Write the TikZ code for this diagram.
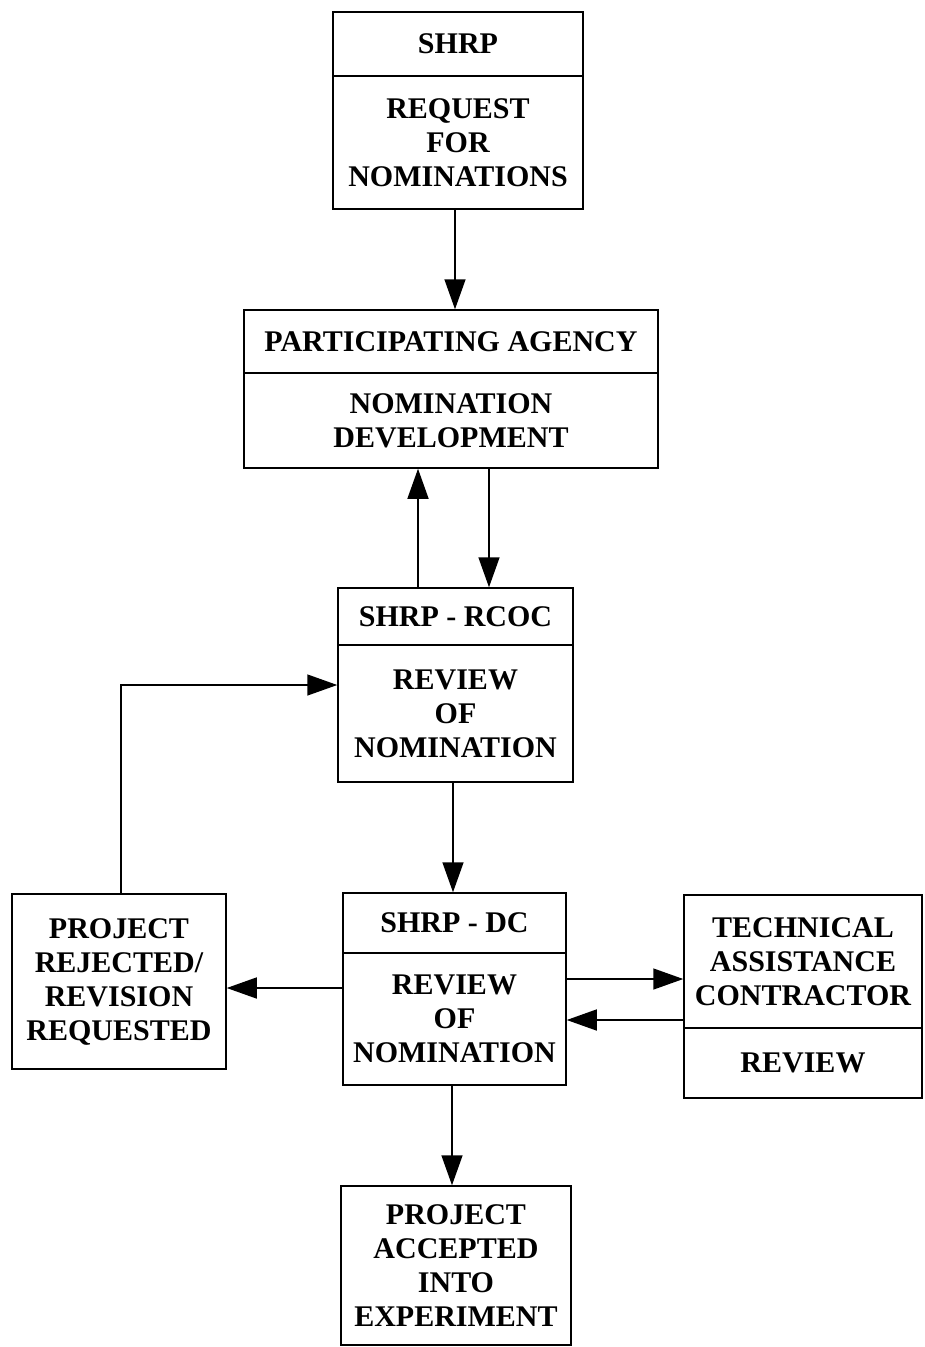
\documentclass[tikz,border=0pt]{standalone}
\usepackage{fontspec}
\setmainfont{Liberation Serif}
\usetikzlibrary{arrows.meta}
\begin{document}
\begin{tikzpicture}[x=1pt,y=-1pt,
  box/.style={draw,line width=1.5pt,inner sep=0pt,align=center,
    font=\fontsize{30}{34}\selectfont\bfseries},
  arr/.style={line width=1.5pt,-{Triangle[length=30pt,width=21pt]}}]
\useasboundingbox[fill=white] (0,0) rectangle (924,1347);
% box 1
\node[box,minimum width=250pt,minimum height=64pt] (b1h) at (458,44) {SHRP};
\node[box,minimum width=250pt,minimum height=133pt] (b1b) at (458,142.5) {REQUEST\\FOR\\NOMINATIONS};
% box 2
\node[box,minimum width=414pt,minimum height=63pt] (b2h) at (451,341.5) {PARTICIPATING AGENCY};
\node[box,minimum width=414pt,minimum height=95pt] (b2b) at (451,420.5) {NOMINATION\\DEVELOPMENT};
% box 3
\node[box,minimum width=235pt,minimum height=57pt] (b3h) at (455.5,616.5) {SHRP - RCOC};
\node[box,minimum width=235pt,minimum height=137pt] (b3b) at (455.5,713.5) {REVIEW\\OF\\NOMINATION};
% box 4
\node[box,minimum width=214pt,minimum height=175pt] (b4) at (119,981.5) {PROJECT\\REJECTED/\\REVISION\\REQUESTED};
% box 5
\node[box,minimum width=223pt,minimum height=60pt] (b5h) at (454.5,923) {SHRP - DC};
\node[box,minimum width=223pt,minimum height=132pt] (b5b) at (454.5,1019) {REVIEW\\OF\\NOMINATION};
% box 6
\node[box,minimum width=238pt,minimum height=133pt] (b6h) at (803,961.5) {TECHNICAL\\ASSISTANCE\\CONTRACTOR};
\node[box,minimum width=238pt,minimum height=70pt] (b6b) at (803,1063) {REVIEW};
% box 7
\node[box,minimum width=230pt,minimum height=159pt] (b7) at (456,1265.5) {PROJECT\\ACCEPTED\\INTO\\EXPERIMENT};
% helper coordinates
\coordinate (c1) at (455,0);
\coordinate (cup) at (418,0);
\coordinate (cdn) at (489,0);
\coordinate (loop) at (121,685);
\coordinate (c3) at (453,0);
\coordinate (r4) at (0,988);
\coordinate (r6a) at (0,979);
\coordinate (r6b) at (0,1020);
\coordinate (c7) at (452,0);
% connectors
\draw[arr] (c1 |- b1b.south) -- (c1 |- b2h.north);
\draw[arr] (cup |- b3h.north) -- (cup |- b2b.south);
\draw[arr] (cdn |- b2b.south) -- (cdn |- b3h.north);
\draw[arr] (loop |- b4.north) -- (loop) -- (loop -| b3b.west);
\draw[arr] (c3 |- b3b.south) -- (c3 |- b5h.north);
\draw[arr] (r4 -| b5b.west) -- (r4 -| b4.east);
\draw[arr] (r6a -| b5b.east) -- (r6a -| b6h.west);
\draw[arr] (r6b -| b6h.west) -- (r6b -| b5b.east);
\draw[arr] (c7 |- b5b.south) -- (c7 |- b7.north);
\end{tikzpicture}
\end{document}
